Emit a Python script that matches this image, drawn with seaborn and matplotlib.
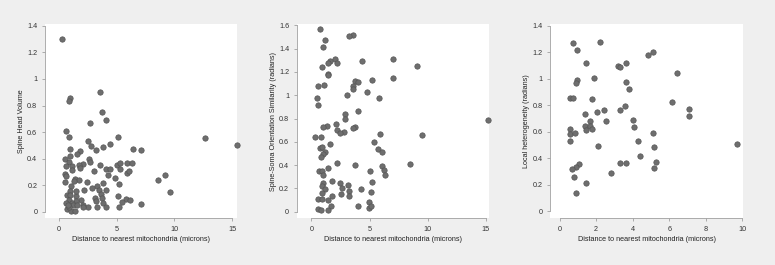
import pandas as pd
import seaborn as sns
import matplotlib.pyplot as plt

# panel 1: spine head volume
vol_dist = [0.29, 0.92, 0.86, 3.6, 3.75, 4.1, 2.7, 0.58, 0.9, 5.1, 12.7, 15.4, 2.5, 2.8,
            1.0, 1.8, 1.6, 1.0, 3.8, 3.2, 4.4, 6.4, 7.15, 0.55, 2.6, 2.7, 0.9, 2.1, 3.55,
            5.05, 5.3, 5.9, 6.3, 0.63, 1.1, 1.7, 1.85, 1.1, 3.0, 4.1, 4.45, 5.3, 5.9, 6.1,
            4.25, 4.85, 0.55, 0.58, 0.5, 1.4, 1.7, 2.4, 5.2, 3.8, 1.05, 3.3, 0.98, 2.2, 3.5,
            4.1, 2.9, 3.65, 1.5, 0.7, 0.95, 3.1, 3.75, 1.95, 1.5, 0.9, 1.1, 5.1, 5.8, 6.2,
            5.5, 0.58, 1.2, 1.6, 2.1, 3.2, 3.8, 2.5, 3.3, 4.1, 5.2, 7.1, 0.7, 1.06, 1.4,
            0.9, 2.07, 8.6, 9.2, 9.6, 1.3, 1.5, 0.8]
vol_val = [1.30, 0.854, 0.836, 0.90, 0.753, 0.695, 0.67, 0.605, 0.56, 0.562, 0.557, 0.506,
           0.53, 0.494, 0.476, 0.458, 0.438, 0.42, 0.489, 0.466, 0.511, 0.471, 0.466, 0.40,
           0.398, 0.378, 0.373, 0.363, 0.355, 0.355, 0.37, 0.37, 0.366, 0.343, 0.343, 0.353,
           0.333, 0.315, 0.305, 0.32, 0.32, 0.322, 0.292, 0.31, 0.275, 0.254, 0.287, 0.267,
           0.222, 0.244, 0.242, 0.227, 0.212, 0.214, 0.194, 0.194, 0.159, 0.164, 0.164,
           0.164, 0.18, 0.131, 0.123, 0.128, 0.13, 0.108, 0.103, 0.09, 0.083, 0.088, 0.07,
           0.123, 0.098, 0.09, 0.073, 0.068, 0.053, 0.05, 0.053, 0.08, 0.063, 0.038, 0.038,
           0.038, 0.033, 0.058, 0.023, 0.008, 0.003, 0.035, 0.033, 0.242, 0.28, 0.146,
           0.23, 0.16, 0.05]

# panel 2: spine-soma orientation similarity
ori_dist = [0.71, 3.54, 3.23, 1.14, 0.97, 9.1, 7.0, 4.37, 2.06, 1.63, 1.46, 2.23, 0.94,
            1.46, 1.38, 7.0, 0.57, 1.09, 5.23, 3.77, 4.03, 3.6, 3.54, 4.74, 5.77, 3.09, 0.46,
            0.57, 4.03, 2.91, 2.89, 15.2, 2.09, 1.31, 1.0, 3.77, 3.6, 2.17, 2.77, 2.43, 0.29,
            0.8, 5.86, 9.5, 5.34, 1.57, 0.71, 0.94, 1.14, 1.0, 5.74, 6.09, 0.86, 2.17, 1.43,
            3.71, 8.46, 6.09, 6.23, 6.31, 0.63, 0.89, 1.03, 5.06, 1.03, 1.77, 2.43, 3.14,
            0.94, 2.66, 4.23, 1.17, 5.23, 2.51, 3.23, 3.23, 0.94, 5.14, 1.77, 0.57, 0.94,
            1.43, 1.66, 4.0, 4.97, 4.91, 5.14, 0.57, 0.86, 1.4]
ori_val = [1.57, 1.52, 1.51, 1.47, 1.41, 1.25, 1.31, 1.29, 1.31, 1.29, 1.28, 1.28, 1.24,
           1.18, 1.17, 1.15, 1.08, 1.09, 1.13, 1.12, 1.11, 1.08, 1.05, 1.03, 0.974, 1.0,
           0.977, 0.917, 0.862, 0.842, 0.796, 0.79, 0.753, 0.733, 0.724, 0.73, 0.718, 0.704,
           0.687, 0.672, 0.644, 0.638, 0.664, 0.658, 0.603, 0.58, 0.549, 0.557, 0.514, 0.50,
           0.543, 0.517, 0.466, 0.422, 0.379, 0.402, 0.411, 0.391, 0.359, 0.313, 0.35, 0.35,
           0.313, 0.353, 0.25, 0.264, 0.25, 0.227, 0.224, 0.204, 0.198, 0.193, 0.253, 0.149,
           0.178, 0.132, 0.161, 0.172, 0.132, 0.106, 0.109, 0.10, 0.049, 0.049, 0.08, 0.032,
           0.052, 0.026, 0.014, 0.014]

# panel 3: local heterogeneity
het_dist = [0.71, 2.19, 0.95, 5.09, 4.82, 3.61, 1.42, 3.21, 3.3, 6.42, 1.9, 0.97, 0.91,
            3.61, 3.81, 0.55, 0.71, 1.79, 6.13, 3.56, 7.1, 2.43, 3.33, 2.04, 1.37, 7.08,
            4.03, 1.64, 2.52, 4.07, 1.4, 1.66, 1.75, 1.44, 0.57, 0.57, 0.86, 5.09, 0.55,
            4.27, 9.69, 2.12, 5.18, 4.42, 3.28, 3.61, 5.29, 5.18, 1.04, 0.89, 0.69, 2.79,
            0.8, 1.42, 0.89]
het_val = [1.267, 1.277, 1.217, 1.199, 1.179, 1.123, 1.116, 1.098, 1.088, 1.045, 1.01,
           0.995, 0.972, 0.975, 0.927, 0.856, 0.856, 0.849, 0.829, 0.793, 0.773, 0.763,
           0.763, 0.753, 0.738, 0.72, 0.688, 0.68, 0.68, 0.635, 0.642, 0.642, 0.622, 0.612,
           0.625, 0.582, 0.594, 0.594, 0.529, 0.531, 0.511, 0.494, 0.484, 0.418, 0.365,
           0.365, 0.373, 0.33, 0.36, 0.332, 0.317, 0.29, 0.262, 0.214, 0.141]

xlabel = "Distance to nearest mitochondria (microns)"


def main():
  fig = plt.figure(figsize=(7.75, 2.65), dpi=100, facecolor='#efefef')
  plt.rcParams['font.family'] = ['Liberation Sans', 'DejaVu Sans']

  panels = [
    (vol_dist, vol_val, "Spine Head Volume", [0.058, 0.177, 0.248, 0.732],
     (-1.21, 15.45), (-0.047, 1.413), [0, 5, 10, 15],
     [0, 0.2, 0.4, 0.6, 0.8, 1, 1.2, 1.4]),
    (ori_dist, ori_val, "Spine-Soma Orientation Similarity (radians)",
     [0.383, 0.177, 0.248, 0.732], (-1.26, 15.28), (-0.054, 1.61), [0, 5, 10, 15],
     [0, 0.2, 0.4, 0.6, 0.8, 1, 1.2, 1.4, 1.6]),
    (het_dist, het_val, "Local heterogeneity (radians)", [0.710, 0.177, 0.249, 0.732],
     (-0.51, 10.04), (-0.05, 1.413), [0, 2, 4, 6, 8, 10],
     [0, 0.2, 0.4, 0.6, 0.8, 1, 1.2, 1.4]),
  ]

  for xs, ys, ylab, rect, xl, yl, xt, yt in panels:
    ax = fig.add_axes(rect)
    df = pd.DataFrame({'dist': xs, 'val': ys})
    sns.scatterplot(x='dist', y='val', data=df, ax=ax, s=15,
                    color='#6e6e6e', edgecolor='#555555', linewidth=0.5,
                    clip_on=False)
    ax.set_facecolor('white')
    ax.set_xlim(xl)
    ax.set_ylim(yl)
    ax.set_xticks(xt)
    ax.set_xticklabels([f"{v:g}" for v in xt])
    ax.set_yticks(yt)
    ax.set_yticklabels([f"{v:g}" for v in yt])
    for side in ['top', 'right']:
      ax.spines[side].set_visible(False)
    for side in ['left', 'bottom']:
      ax.spines[side].set_color('#a0a0a0')
      ax.spines[side].set_linewidth(0.6)
    ax.spines['left'].set_bounds(yt[0], yt[-1])
    ax.spines['bottom'].set_bounds(xt[0], xt[-1])
    ax.tick_params(length=2.5, width=0.6, color='#a0a0a0', labelsize=5.2,
                   labelcolor='#333333', pad=3)
    ax.set_xlabel(xlabel, fontsize=5.2, color='#222222', labelpad=2)
    ax.set_ylabel(ylab, fontsize=5.2, color='#222222', labelpad=1.5)

  plt.savefig("out.png", dpi=100, facecolor=fig.get_facecolor())


if __name__ == "__main__":
  main()
